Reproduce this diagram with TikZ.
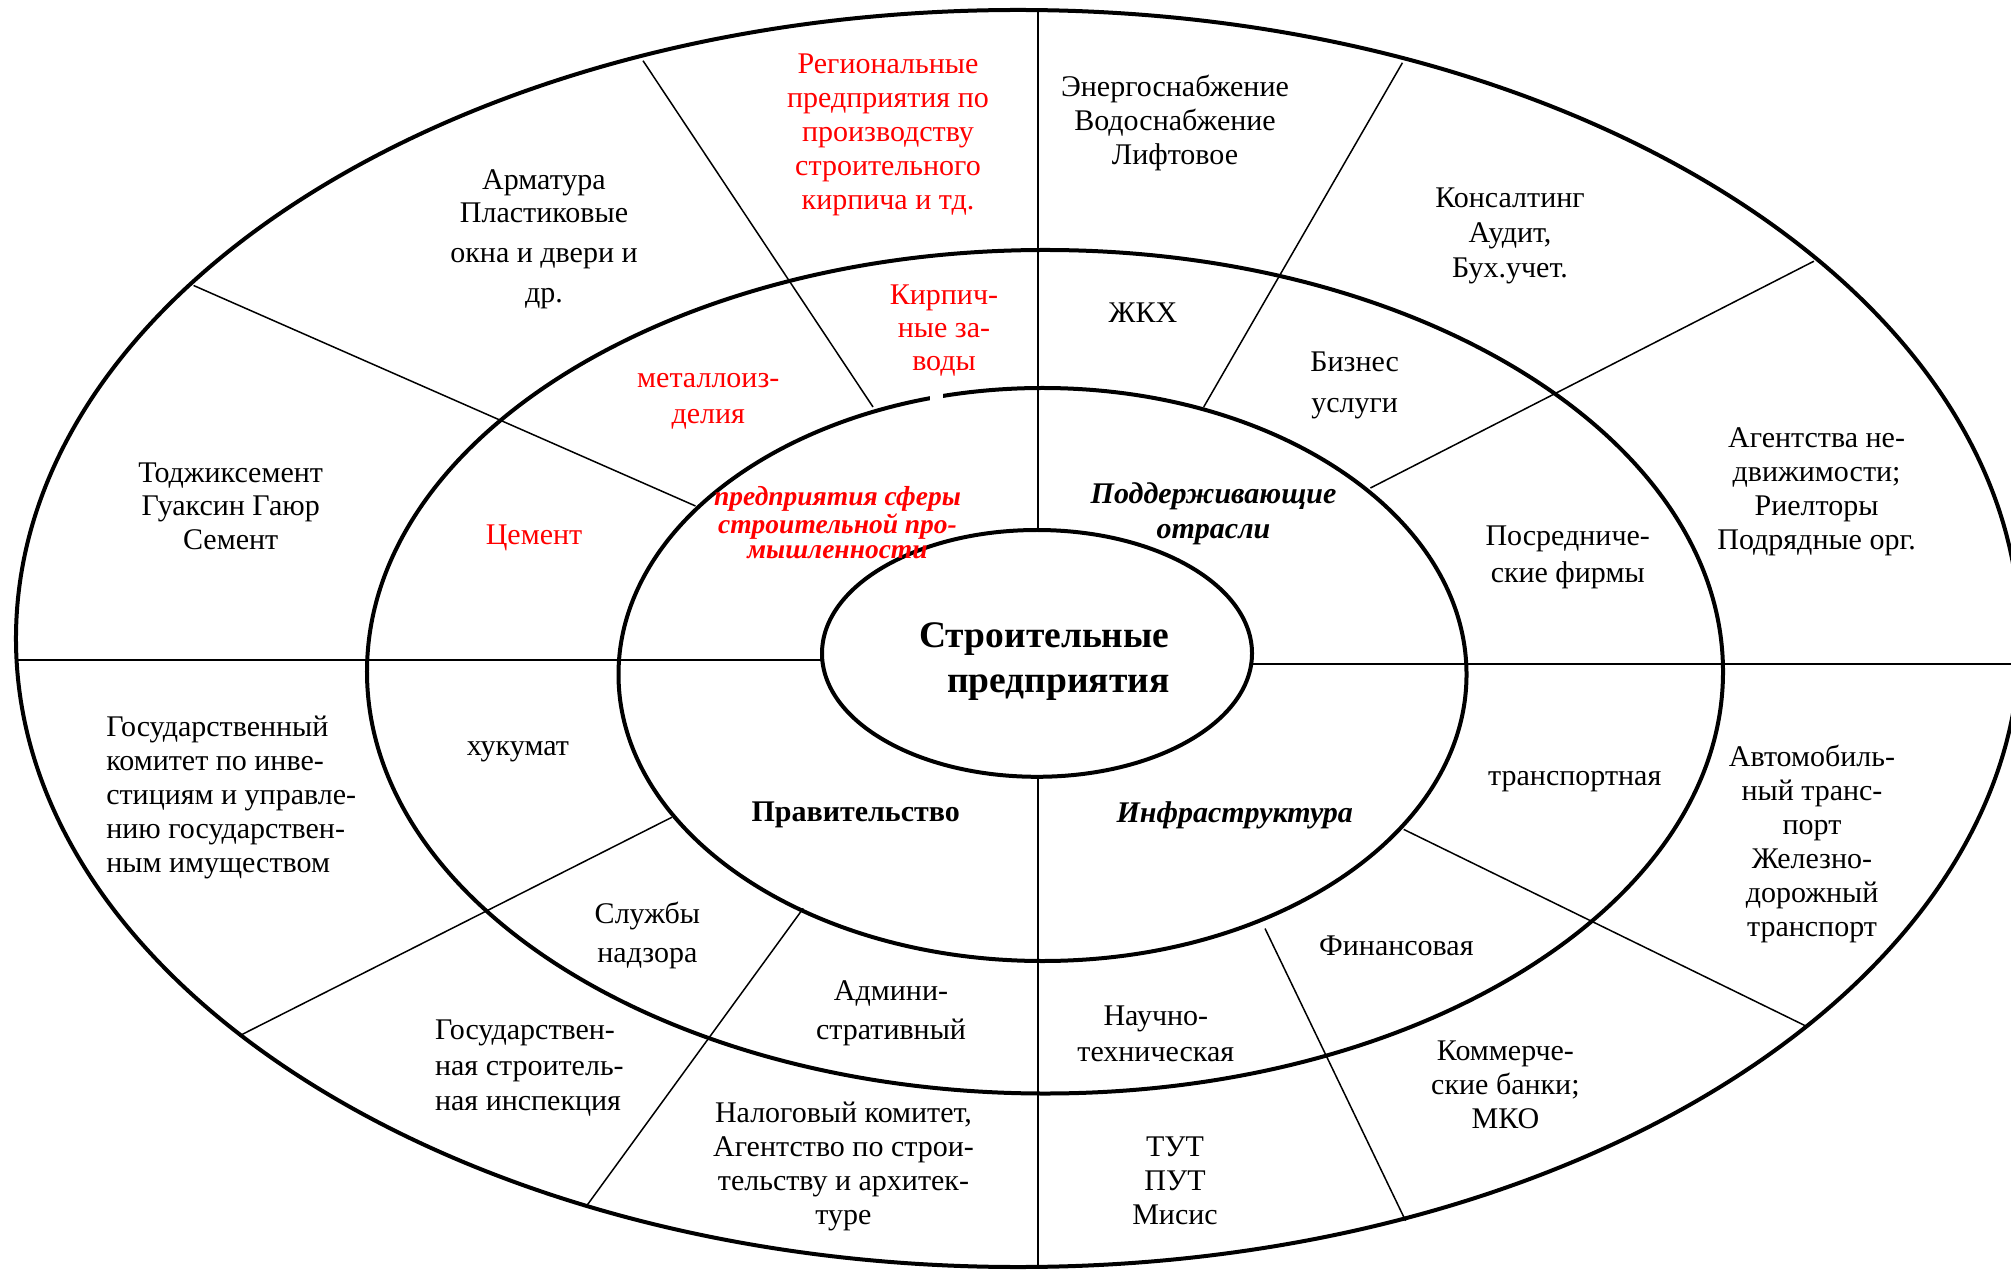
\documentclass[tikz,border=0pt]{standalone}
\usepackage{fontspec}
\setmainfont{Liberation Serif}
\begin{document}
\begin{tikzpicture}[x=0.4pt,y=-0.4pt,
  ring/.style={line width=1.6pt},
  spoke/.style={line width=0.6pt},
  lbl/.style={align=center,inner sep=0pt,font=\fontsize{12}{13.6}\selectfont},
  redlbl/.style={lbl,text=red},
]
\clip (0,0) rectangle (2011,1270);
\fill[white] (0,0) rectangle (2011,1270);
% rings
\draw[ring] (1018,638.5) ellipse [x radius=400.8pt, y radius=251.4pt];
\draw[ring] (1045,671.75) ellipse [x radius=271.2pt, y radius=168.7pt];
\draw[ring] (1042.5,674.5) ellipse [x radius=169.6pt, y radius=114.6pt];
\draw[ring] (1037,653.4) ellipse [x radius=86pt, y radius=49.36pt];
\fill[white] (930,384) rectangle (943,404);
% spoke end points
\coordinate (Vt1) at (1038,10);     \coordinate (Vt2) at (1038,530);
\coordinate (Vb1) at (1038,776.7);  \coordinate (Vb2) at (1038,1268);
\coordinate (Hl1) at (16,660);      \coordinate (Hl2) at (822,660);
\coordinate (Hr1) at (1252,664);    \coordinate (Hr2) at (2020,664);
\coordinate (A1) at (193.6,285.5);  \coordinate (A2) at (695.5,506);
\coordinate (B1) at (643,60.7);     \coordinate (B2) at (873,407);
\coordinate (C1) at (1402.4,62.8);  \coordinate (C2) at (1203.7,407);
\coordinate (D1) at (1813.9,261.2); \coordinate (D2) at (1370.4,488);
\coordinate (E1) at (1403.7,829.4); \coordinate (E2) at (1805.4,1025.8);
\coordinate (F1) at (1265,928.5);   \coordinate (F2) at (1405.6,1220.8);
\coordinate (G1) at (803.2,908.4);  \coordinate (G2) at (586.5,1206);
\coordinate (H1) at (671.8,817.3);  \coordinate (H2) at (239,1036);
\draw[spoke] (Vt1) -- (Vt2);
\draw[spoke] (Vb1) -- (Vb2);
\draw[spoke] (Hl1) -- (Hl2);
\draw[spoke] (Hr1) -- (Hr2);
\draw[spoke] (A1) -- (A2);
\draw[spoke] (B1) -- (B2);
\draw[spoke] (C1) -- (C2);
\draw[spoke] (D1) -- (D2);
\draw[spoke] (E1) -- (E2);
\draw[spoke] (F1) -- (F2);
\draw[spoke] (G1) -- (G2);
\draw[spoke] (H1) -- (H2);
\begin{scope}[yshift=-1pt]
% outer ring texts
\node[lbl] (armatura) at (544,237) {Арматура\\[-0.4pt]Пластиковые\\[2.4pt]окна и двери и\\[2.4pt]др.};
\node[redlbl] (region) at (888,132.6) {Региональные\\предприятия по\\производству\\строительного\\кирпича и тд.};
\node[lbl] (energo) at (1175,120.7) {Энергоснабжение\\Водоснабжение\\Лифтовое};
\node[lbl,font=\fontsize{12}{14}\selectfont] (konsalt) at (1510,233.7) {Консалтинг\\Аудит,\\Бух.учет.};
\node[lbl] (agent) at (1816.6,489) {Агентства не-\\движимости;\\Риелторы\\Подрядные орг.};
\node[lbl,font=\fontsize{12}{13.4}\selectfont] (todzhik) at (230.7,503.4) {Тоджиксемент\\Гуаксин Гаюр\\Семент};
\node[lbl,align=left,anchor=west] (goskom) at (105.8,795) {Государственный\\комитет по инве-\\стициям и управле-\\нию государствен-\\ным имуществом};
\node[lbl,align=left,anchor=west,font=\fontsize{12}{14.2}\selectfont] (gosstroy) at (434.6,1065.7) {Государствен-\\ная строитель-\\ная инспекция};
\node[lbl] (nalog) at (843.5,1163.6) {Налоговый комитет,\\Агентство по строи-\\тельству и архитек-\\туре};
\node[lbl] (tut) at (1175,1178) {ТУТ\\ПУТ\\Мисис};
\node[lbl] (kommer) at (1505.4,1082) {Коммерче-\\ские банки;\\МКО};
\node[lbl] (avto) at (1812,841.5) {Автомобиль-\\ный транс-\\порт\\Железно-\\дорожный\\транспорт};
% middle ring texts
\node[redlbl,font=\fontsize{12}{14.6}\selectfont] (metall) at (708.3,399) {металлоиз-\\делия};
\node[redlbl,font=\fontsize{12}{13.3}\selectfont] (kirpich) at (944,328.3) {Кирпич-\\ные за-\\воды};
\node[lbl] (zhkh) at (1143,309.8) {ЖКХ};
\node[lbl,font=\fontsize{12}{16.2}\selectfont] (biznes) at (1354.7,382.7) {Бизнес\\услуги};
\node[lbl,font=\fontsize{12}{14.6}\selectfont] (posred) at (1567.7,554.8) {Посредниче-\\ские фирмы};
\node[redlbl] (cement) at (534,535.4) {Цемент};
\node[lbl] (hukumat) at (517.9,749.2) {хукумат};
\node[lbl,font=\fontsize{12}{15.7}\selectfont] (sluzhby) at (647.4,933.3) {Службы\\надзора};
\node[lbl,font=\fontsize{12}{15.4}\selectfont] (admin) at (891,1010.6) {Админи-\\стративный};
\node[lbl,font=\fontsize{12}{14.1}\selectfont] (nauchno) at (1155.8,1031.3) {Научно-\\техническая};
\node[lbl] (finans) at (1396.4,943.6) {Финансовая};
\node[lbl] (transp) at (1574.7,778.8) {транспортная};
% inner ring texts
\node[redlbl,font=\fontsize{11}{10}\selectfont\bfseries\itshape] (predpr) at (837.5,520.5) {предприятия сферы\\строительной про-\\мышленности};
\node[lbl,font=\fontsize{12}{13.8}\selectfont\bfseries\itshape] (podderzh) at (1213.5,511.3) {Поддерживающие\\отрасли};
\node[lbl,font=\fontsize{12}{13.6}\selectfont\bfseries] (pravit) at (855.7,812) {Правительство};
\node[lbl,font=\fontsize{12}{13.6}\selectfont\bfseries\itshape] (infra) at (1234.7,813.2) {Инфраструктура};
% center
\node[lbl,align=right,anchor=east,font=\fontsize{15}{18}\selectfont\bfseries] (center) at (1170,659) {Строительные\\предприятия};
\end{scope}
\end{tikzpicture}
\end{document}
